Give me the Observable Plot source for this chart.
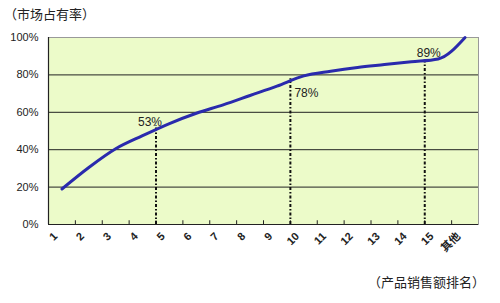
<!DOCTYPE html>
<html>
<head>
<meta charset="utf-8">
<script src="https://cdn.jsdelivr.net/npm/d3@7"></script>
<script src="https://cdn.jsdelivr.net/npm/@observablehq/plot@0.6"></script>
<style>
  html, body { margin: 0; padding: 0; background: #fff; }
  #chart svg { display: block; }
</style>
</head>
<body>
<div id="chart"></div>
<script>
// ---- data ----
const rankLabels = ["1","2","3","4","5","6","7","8","9","10","11","12","13","14","15","其他"];
const shareValues = [0.19, 0.305, 0.405, 0.475, 0.54, 0.595, 0.64, 0.69, 0.74, 0.795, 0.82, 0.84, 0.855, 0.87, 0.885, 1.00];
const markerRanks = [5, 10, 15];
const markerValues = [0.53, 0.78, 0.89];
const markerLabels = ["53%", "78%", "89%"];
const yTicks = [0, 0.2, 0.4, 0.6, 0.8, 1.0];
const titleText = "（市场占有率）";
const captionText = "（产品销售额排名）";

const curve = rankLabels.map((r, i) => ({x: i + 1.5, y: shareValues[i]}));
const markers = markerRanks.map((r, i) => ({x: r, y: markerValues[i], label: markerLabels[i]}));
const xTicks = rankLabels.map((r, i) => i + 1);

const sans = "'Liberation Sans', Arial, sans-serif";

const chart = Plot.plot({
  width: 500,
  height: 303,
  marginTop: 37,
  marginBottom: 79,
  marginLeft: 48,
  marginRight: 22,
  style: {fontFamily: sans, fontSize: "11px", background: "#fff", color: "#222"},
  x: {domain: [1, 17], axis: null},
  y: {domain: [0, 1], axis: null},
  marks: [
    Plot.frame({fill: "#ecfbc9", stroke: "#999", strokeWidth: 1}),
    Plot.ruleY(yTicks.slice(1, -1), {stroke: "#222", strokeWidth: 1}),
    Plot.ruleX(xTicks.slice(1), {x: d => d, y1: 0, y2: 0.02, stroke: "#222", strokeWidth: 1}),
    Plot.ruleX([1], {stroke: "#222", strokeWidth: 1.2}),
    Plot.ruleY([0], {stroke: "#222", strokeWidth: 1.2}),
    Plot.ruleX(markers, {x: "x", y1: 0, y2: "y", stroke: "#111", strokeWidth: 2, strokeDasharray: "3,2,1.5,2"}),
    Plot.line(curve, {x: "x", y: "y", stroke: "#2a2aad", strokeWidth: 3, curve: "monotone-x"}),
    Plot.text([markers[0]], {x: "x", y: "y", text: "label", dx: -6, dy: -3, textAnchor: "middle", fontSize: 12, fill: "#222"}),
    Plot.text([markers[1]], {x: "x", y: "y", text: "label", dx: 4, dy: 15, textAnchor: "start", fontSize: 12, fill: "#222"}),
    Plot.text([markers[2]], {x: "x", y: "y", text: "label", dx: 4, dy: -5, textAnchor: "middle", fontSize: 12, fill: "#222"}),
    Plot.axisY({ticks: yTicks, tickFormat: d => Math.round(d * 100) + "%", tickSize: 0, tickPadding: 10, fontSize: 11, label: null}),
    Plot.axisX({ticks: xTicks, tickFormat: d => rankLabels[d - 1], tickSize: 0, tickPadding: 10, tickRotate: -45, dx: 7, fontSize: 11, fontWeight: "bold", label: null, fontFamily: "'Liberation Sans', 'Noto Sans CJK SC', sans-serif"})
  ]
});

document.getElementById("chart").appendChild(chart);

const svg = d3.select(chart);
svg.append("text")
  .attr("x", 4).attr("y", 19)
  .attr("text-anchor", "start")
  .attr("font-family", "'Noto Sans CJK SC', sans-serif")
  .attr("font-size", 13).attr("fill", "#222")
  .text(titleText);
svg.append("text")
  .attr("x", 485).attr("y", 287)
  .attr("text-anchor", "end")
  .attr("font-family", "'Noto Sans CJK SC', sans-serif")
  .attr("font-size", 13).attr("fill", "#222")
  .text(captionText);
</script>
</body>
</html>
